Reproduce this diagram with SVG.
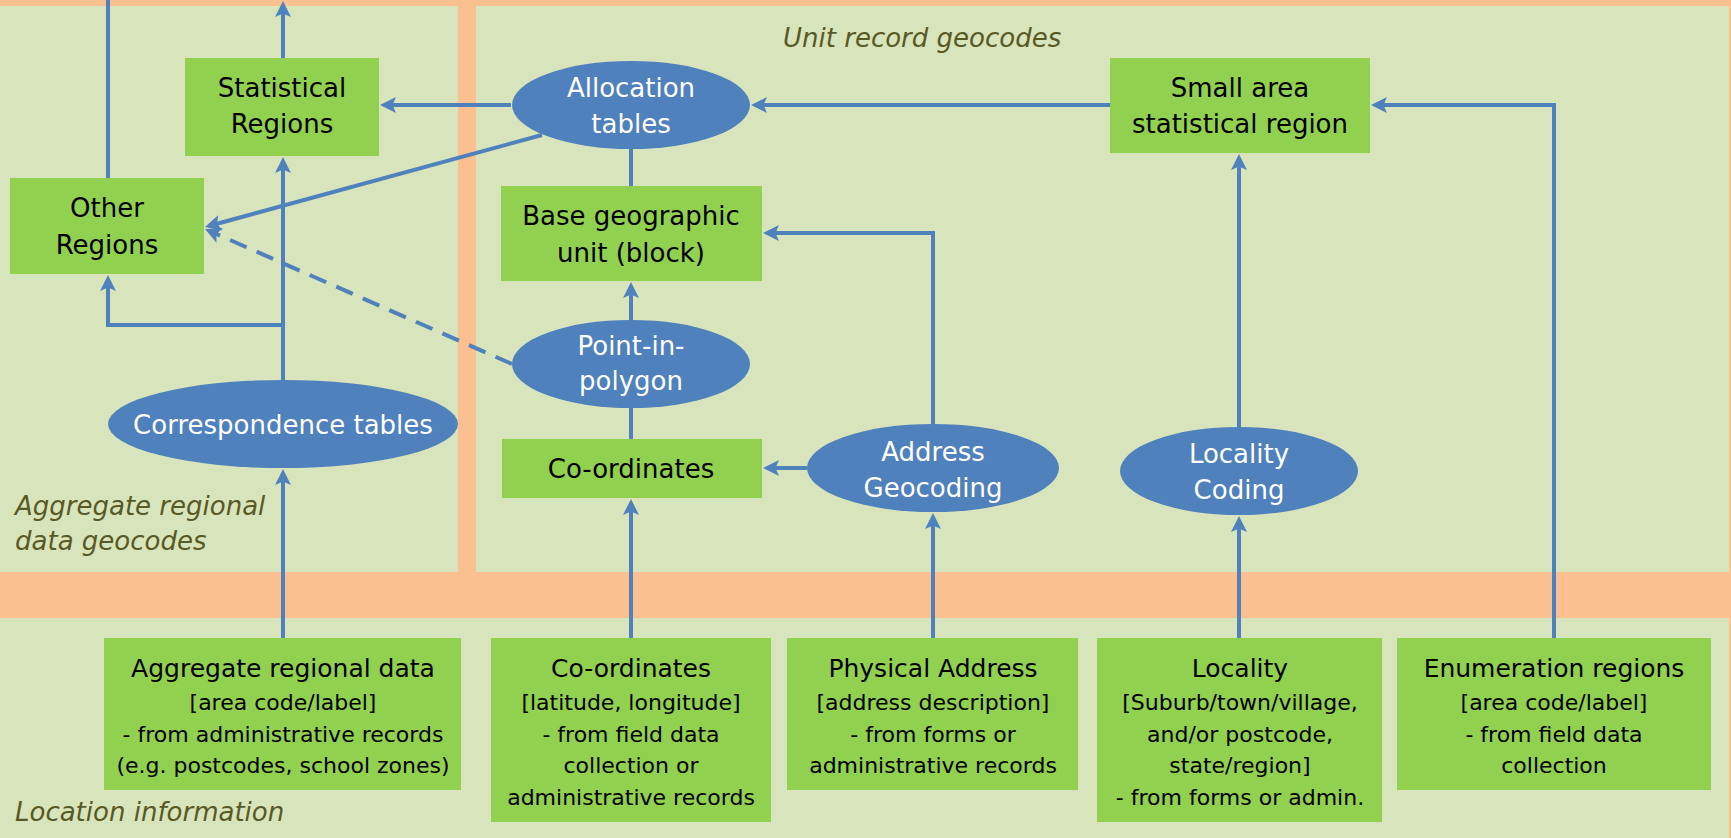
<svg xmlns="http://www.w3.org/2000/svg" width="1731" height="838" viewBox="0 0 1731 838">
<style>
.panel{fill:#D8E4BC}
.box{fill:#92D050}
.ell{fill:#4F81BD}
.t{font-family:"DejaVu Sans",sans-serif;font-size:26px;text-anchor:middle;fill:#000}
.w{fill:#fff}
.title{font-size:25px}
.body{font-size:22px}
.lab{font-family:"DejaVu Sans",sans-serif;font-style:italic;font-size:26px;fill:#595926}
.c{stroke:#4F81BD;stroke-width:4;fill:none}
.d{stroke-dasharray:18 11}
</style>
<defs>
<marker id="ah" viewBox="0 0 16 16" refX="11" refY="8" markerWidth="16" markerHeight="16" orient="auto" markerUnits="userSpaceOnUse">
<path d="M0,0 L16,8 L0,16 L3.5,8 z" fill="#4F81BD"/>
</marker>
</defs>
<rect x="0" y="0" width="1731" height="838" fill="#FAC090"/>
<g id="panels">
<rect class="panel" x="0" y="6" width="458" height="566"/>
<rect class="panel" x="476" y="6" width="1253" height="566"/>
<rect class="panel" x="0" y="618" width="1729" height="220"/>
<text class="lab" x="783" y="47">Unit record geocodes</text>
<text class="lab" x="15" y="515">Aggregate regional</text>
<text class="lab" x="15" y="550">data geocodes</text>
<text class="lab" x="15" y="821">Location information</text>
</g>
<g id="connectors">
<line class="c" x1="108" y1="178" x2="108" y2="0"/>
<line class="c" x1="283" y1="58" x2="283" y2="6" marker-end="url(#ah)"/>
<line class="c" x1="511" y1="105" x2="385" y2="105" marker-end="url(#ah)"/>
<line class="c" x1="542" y1="135" x2="209.8" y2="225.7" marker-end="url(#ah)"/>
<line class="c d" x1="512" y1="364" x2="209.6" y2="231" marker-end="url(#ah)"/>
<line class="c" x1="283" y1="380" x2="283" y2="162" marker-end="url(#ah)"/>
<polyline class="c" points="283,325 108,325 108,280" marker-end="url(#ah)"/>
<line class="c" x1="631" y1="149" x2="631" y2="186"/>
<line class="c" x1="631" y1="320" x2="631" y2="287" marker-end="url(#ah)"/>
<line class="c" x1="631" y1="439" x2="631" y2="408"/>
<line class="c" x1="807" y1="468" x2="768" y2="468" marker-end="url(#ah)"/>
<polyline class="c" points="933,424 933,233 768,233" marker-end="url(#ah)"/>
<line class="c" x1="1110" y1="105" x2="756" y2="105" marker-end="url(#ah)"/>
<line class="c" x1="1239" y1="427" x2="1239" y2="159" marker-end="url(#ah)"/>
<polyline class="c" points="1554,638 1554,105 1376,105" marker-end="url(#ah)"/>
<line class="c" x1="283" y1="638" x2="283" y2="474" marker-end="url(#ah)"/>
<line class="c" x1="631" y1="638" x2="631" y2="504" marker-end="url(#ah)"/>
<line class="c" x1="933" y1="638" x2="933" y2="518" marker-end="url(#ah)"/>
<line class="c" x1="1239" y1="638" x2="1239" y2="521" marker-end="url(#ah)"/>
</g>
<g id="statistical-regions">
<rect class="box" x="185" y="58" width="194" height="98"/>
<text class="t" x="282" y="97">Statistical</text>
<text class="t" x="282" y="133">Regions</text>
</g>
<g id="other-regions">
<rect class="box" x="10" y="178" width="194" height="96"/>
<text class="t" x="107" y="217">Other</text>
<text class="t" x="107" y="254">Regions</text>
</g>
<g id="allocation-tables">
<ellipse class="ell" cx="631" cy="105" rx="119" ry="44"/>
<text class="t w" x="631" y="97">Allocation</text>
<text class="t w" x="631" y="133">tables</text>
</g>
<g id="small-area">
<rect class="box" x="1110" y="58" width="260" height="95"/>
<text class="t" x="1240" y="97">Small area</text>
<text class="t" x="1240" y="133">statistical region</text>
</g>
<g id="base-geographic-unit">
<rect class="box" x="501" y="186" width="261" height="95"/>
<text class="t" x="631" y="225">Base geographic</text>
<text class="t" x="631" y="262">unit (block)</text>
</g>
<g id="point-in-polygon">
<ellipse class="ell" cx="631" cy="364" rx="119" ry="44"/>
<text class="t w" x="631" y="355">Point-in-</text>
<text class="t w" x="631" y="390">polygon</text>
</g>
<g id="correspondence-tables">
<ellipse class="ell" cx="283" cy="424" rx="175" ry="44"/>
<text class="t w" x="283" y="434">Correspondence tables</text>
</g>
<g id="coordinates-geocode">
<rect class="box" x="502" y="439" width="260" height="59"/>
<text class="t" x="631" y="478">Co-ordinates</text>
</g>
<g id="address-geocoding">
<ellipse class="ell" cx="933" cy="468" rx="126" ry="44"/>
<text class="t w" x="933" y="461">Address</text>
<text class="t w" x="933" y="497">Geocoding</text>
</g>
<g id="locality-coding">
<ellipse class="ell" cx="1239" cy="471" rx="119" ry="44"/>
<text class="t w" x="1239" y="463">Locality</text>
<text class="t w" x="1239" y="499">Coding</text>
</g>
<g id="aggregate-regional-data">
<rect class="box" x="104" y="638" width="357" height="152"/>
<text class="t title" x="283" y="677">Aggregate regional data</text>
<text class="t body" x="283" y="710">[area code/label]</text>
<text class="t body" x="283" y="742">- from administrative records</text>
<text class="t body" x="283" y="773">(e.g. postcodes, school zones)</text>
</g>
<g id="coordinates-source">
<rect class="box" x="491" y="638" width="280" height="184"/>
<text class="t title" x="631" y="677">Co-ordinates</text>
<text class="t body" x="631" y="710">[latitude, longitude]</text>
<text class="t body" x="631" y="742">- from field data</text>
<text class="t body" x="631" y="773">collection or</text>
<text class="t body" x="631" y="805">administrative records</text>
</g>
<g id="physical-address">
<rect class="box" x="787" y="638" width="291" height="152"/>
<text class="t title" x="933" y="677">Physical Address</text>
<text class="t body" x="933" y="710">[address description]</text>
<text class="t body" x="933" y="742">- from forms or</text>
<text class="t body" x="933" y="773">administrative records</text>
</g>
<g id="locality">
<rect class="box" x="1097" y="638" width="285" height="184"/>
<text class="t title" x="1240" y="677">Locality</text>
<text class="t body" x="1240" y="710">[Suburb/town/village,</text>
<text class="t body" x="1240" y="742">and/or postcode,</text>
<text class="t body" x="1240" y="773">state/region]</text>
<text class="t body" x="1240" y="805">- from forms or admin.</text>
</g>
<g id="enumeration-regions">
<rect class="box" x="1397" y="638" width="314" height="152"/>
<text class="t title" x="1554" y="677">Enumeration regions</text>
<text class="t body" x="1554" y="710">[area code/label]</text>
<text class="t body" x="1554" y="742">- from field data</text>
<text class="t body" x="1554" y="773">collection</text>
</g>
</svg>
